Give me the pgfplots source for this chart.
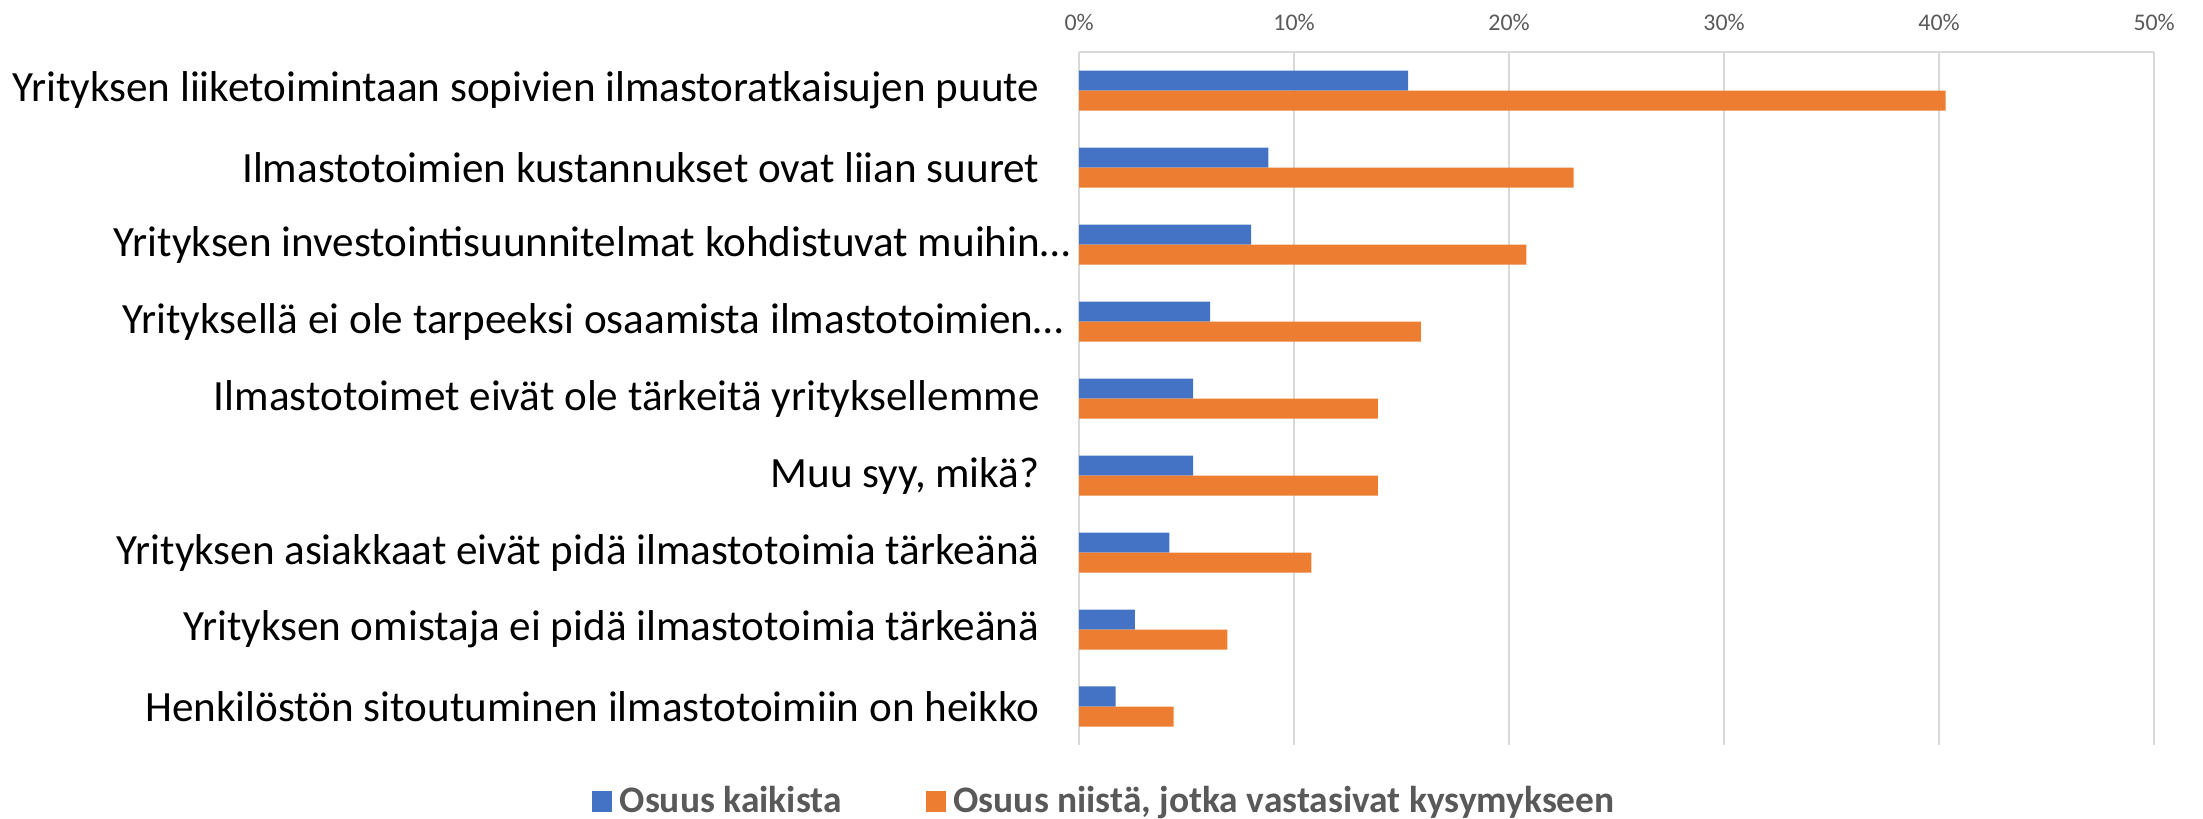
\documentclass[border=0pt]{standalone}
\usepackage{fontspec}
\setmainfont{Carlito}
\usepackage{pgfplots}
\pgfplotsset{compat=1.18}
\definecolor{xlblue}{HTML}{4472C4}
\definecolor{xlorange}{HTML}{ED7D31}
\definecolor{gridgray}{HTML}{D9D9D9}
\definecolor{txtgray}{HTML}{595959}

\begin{document}
\begin{tikzpicture}
\path[use as bounding box] (-293.9pt,-19.9pt) rectangle (306.1pt,202.9pt);
\begin{axis}[
  at={(0,0)}, anchor=south west,
  xbar,
  scale only axis,
  width=292.8pt, height=188.7pt,
  xmin=0, xmax=50,
  ymin=-0.5, ymax=8.5,
  bar width=0.26,
  ytick={0,...,8},
  yticklabels={
    Henkilöstön sitoutuminen ilmastotoimiin on heikko,
    Yrityksen omistaja ei pidä ilmastotoimia tärkeänä,
    Yrityksen asiakkaat eivät pidä ilmastotoimia tärkeänä,
    {Muu syy, mikä?},
    Ilmastotoimet eivät ole tärkeitä yrityksellemme,
    Yrityksellä ei ole tarpeeksi osaamista ilmastotoimien…\kern-6.5pt,
    Yrityksen investointisuunnitelmat kohdistuvat muihin…\kern-8.4pt,
    Ilmastotoimien kustannukset ovat liian suuret,
    Yrityksen liiketoimintaan sopivien ilmastoratkaisujen puute},
  xtick={0,10,...,50},
  xticklabels={0\%,10\%,20\%,30\%,40\%,50\%},
  xticklabel pos=upper,
  axis x line*=top,
  axis y line*=left,
  x axis line style={-, draw=gridgray, line width=0.6pt},
  y axis line style={draw=none},
  major tick length=0pt,
  xmajorgrids,
  grid style={draw=gridgray, line width=0.6pt},
  xticklabel style={font=\fontsize{6.5}{8}\selectfont, text=txtgray, inner sep=0pt, anchor=center, yshift=8.2pt},
  yticklabel style={font=\fontsize{11.75}{14}\selectfont, text=black, inner sep=0pt, anchor=east, xshift=-10.6pt},
  legend image code/.code={\fill[#1] (0pt,-2.8pt) rectangle (5.5pt,3pt);},
  legend style={at={(0.026,-0.082)}, anchor=center, draw=none, fill=none,
    legend columns=-1, font=\bfseries\fontsize{10.2}{12}\selectfont, text=txtgray,
    /tikz/every even column/.append style={column sep=21pt}},
]
\addplot[fill=xlblue, draw=none, bar shift=0.13] coordinates {
  (1.7,0) (2.6,1) (4.2,2) (5.3,3) (5.3,4) (6.1,5) (8.0,6) (8.8,7) (15.3,8)};
\addlegendentry{Osuus kaikista}
\addplot[fill=xlorange, draw=none, bar shift=-0.13] coordinates {
  (4.4,0) (6.9,1) (10.8,2) (13.9,3) (13.9,4) (15.9,5) (20.8,6) (23.0,7) (40.3,8)};
\addlegendentry{Osuus niistä, jotka vastasivat kysymykseen}
\end{axis}
\end{tikzpicture}
\end{document}
